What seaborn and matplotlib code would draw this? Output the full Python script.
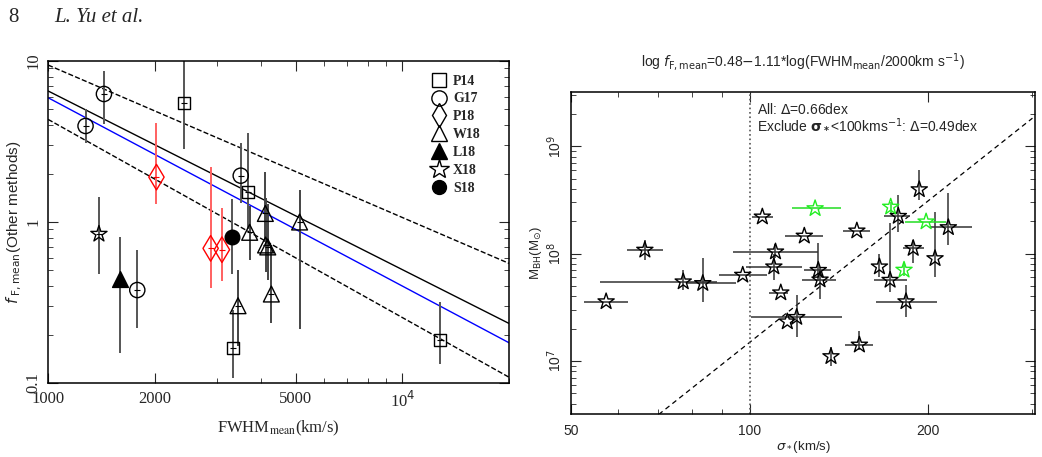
import numpy as np
import pandas as pd
import matplotlib
matplotlib.use("Agg")
import matplotlib.pyplot as plt
from matplotlib.lines import Line2D
from matplotlib.ticker import NullFormatter
import seaborn as sns

# ---- left panel: f_F,mean vs FWHM_mean ----
p14_x = [2416, 3665, 3326, 12760]
p14_y = [5.46, 1.54, 0.166, 0.185]
p14_lo = [2.83, 0.90, 0.108, 0.132]
p14_hi = [15.0, 3.56, 0.284, 0.32]

g17_x = [1276, 1438, 3498, 1786]
g17_y = [3.95, 6.24, 1.94, 0.378]
g17_lo = [3.08, 4.05, 1.31, 0.219]
g17_hi = [5.0, 8.67, 3.09, 0.67]

p18_x = [2023, 2877, 3096]
p18_y = [1.90, 0.686, 0.673]
p18_lo = [1.29, 0.391, 0.432]
p18_hi = [4.1, 2.2, 1.23]

w18_x = [3437, 3707, 4105, 4111, 4170, 4268, 5128]
w18_y = [0.302, 0.863, 1.13, 0.72, 0.70, 0.357, 1.0]
w18_lo = [0.17, 0.58, 0.75, 0.49, 0.436, 0.236, 0.216]
w18_hi = [0.503, 1.25, 2.04, 1.4, 1.3, 0.72, 1.58]

l18_x, l18_y, l18_lo, l18_hi = [1592], [0.443], [0.153], [0.807]
x18_x, x18_y, x18_lo, x18_hi = [1392], [0.842], [0.475], [1.44]
s18_x, s18_y, s18_lo, s18_hi = [3312], [0.807], [0.473], [1.39]

# fit lines: log f = a + b*log(FWHM/2000)
fit_a = [0.48, 0.42, 0.69, 0.267]
fit_b = [-1.11, -1.17, -0.947, -1.231]
fit_color = ['black', 'blue', 'black', 'black']
fit_style = ['-', '-', '--', '--']
fwhm_range = [1000, 20000]

legend_labels = ['P14', 'G17', 'P18', 'W18', 'L18', 'X18', 'S18']

# ---- right panel: M_BH vs sigma_* ----
sig = [57.3, 66.6, 77.3, 83.4, 97.4, 105.1, 110.6, 109.9, 112.9, 115.8, 120.1, 123.7,
       130.6, 131.5, 137.2, 151.7, 153.2, 165.6, 172.6, 178.2, 183.6, 188.8, 193.3, 205.5, 216.4]
sig_lo = [52.6, 62.2, 55.9, 78.0, 88.9, 101.0, 93.7, 98.8, 108.0, 115.8, 100.7, 114.9,
          123.7, 122.4, 137.2, 143.9, 145.0, 165.6, 162.0, 168.3, 163.4, 181.2, 193.3, 205.5, 201.5]
sig_hi = [62.5, 71.5, 88.0, 95.0, 106.9, 109.6, 130.6, 122.4, 116.0, 115.8, 143.0, 133.0,
          137.0, 140.0, 137.2, 159.6, 161.8, 165.6, 184.0, 186.6, 207.0, 196.7, 193.3, 205.5, 237.0]
mbh = [3.57e7, 1.08e8, 5.47e7, 5.28e7, 6.31e7, 2.2e8, 1.04e8, 7.54e7, 4.32e7, 2.32e7, 2.55e7, 1.46e8,
       7.0e7, 5.7e7, 1.10e7, 1.63e8, 1.41e7, 7.54e7, 5.66e7, 2.23e8, 3.57e7, 1.12e8, 3.95e8, 9.0e7, 1.75e8]
mbh_lo = [3.57e7, 8.7e7, 4.6e7, 3.56e7, 6.31e7, 2.2e8, 9.0e7, 5.66e7, 4.32e7, 2.32e7, 1.68e7, 1.46e8,
          5.5e7, 3.8e7, 8.9e6, 1.63e8, 1.25e7, 6.1e7, 4.4e7, 1.6e8, 2.55e7, 8.2e7, 3.15e8, 6.1e7, 1.2e8]
mbh_hi = [3.57e7, 1.34e8, 7.0e7, 9.0e7, 6.31e7, 2.2e8, 1.24e8, 1.0e8, 4.32e7, 2.32e7, 4.1e7, 1.46e8,
          1.25e8, 7.5e7, 1.36e7, 1.63e8, 1.88e7, 1.0e8, 1.91e8, 3.5e8, 5.1e7, 1.34e8, 5.98e8, 2.45e8, 3.63e8]

gsig = [129.0, 173.0, 182.2, 198.5]
gsig_lo = [117.8, 173.0, 182.2, 182.9]
gsig_hi = [142.5, 173.0, 182.2, 214.7]
gmbh = [2.63e8, 2.72e8, 7.03e7, 1.98e8]
gmbh_lo = [2.63e8, 2.4e8, 6.2e7, 1.98e8]
gmbh_hi = [2.63e8, 3.0e8, 8.0e7, 1.98e8]

# M-sigma relation (KH13): log M = 8.49 + 4.38 log(sigma/200)
msig_a, msig_b = 8.49, 4.38
sig_range = [50, 300]

sns.set_style('ticks')
plt.rcParams.update({
    'xtick.direction': 'in', 'ytick.direction': 'in',
    'xtick.top': True, 'ytick.right': True,
    'xtick.major.size': 7, 'ytick.major.size': 7,
    'xtick.minor.size': 3.5, 'ytick.minor.size': 3.5,
    'axes.linewidth': 1.1, 'axes.edgecolor': 'black',
})

fig = plt.figure(figsize=(10.42, 4.57), dpi=100)
ax1 = fig.add_axes([0.0461, 0.1619, 0.4424, 0.7046])
ax2 = fig.add_axes([0.548, 0.0941, 0.4453, 0.7046])

serif = 'Liberation Serif'
sans = 'Liberation Sans'

# ----- left panel -----
ax1.set_xscale('log')
ax1.set_yscale('log')

groups = [
    (p14_x, p14_y, p14_lo, p14_hi, 's', 'none', 'black', '#555555', 75),
    (g17_x, g17_y, g17_lo, g17_hi, 'o', 'none', 'black', '#555555', 120),
    (p18_x, p18_y, p18_lo, p18_hi, 'd', 'none', 'red', '#ff6060', 170),
    (w18_x, w18_y, w18_lo, w18_hi, '^', 'none', 'black', '#444444', 130),
    (l18_x, l18_y, l18_lo, l18_hi, '^', 'black', 'black', '#555555', 130),
    (x18_x, x18_y, x18_lo, x18_hi, '*', 'none', 'black', '#555555', 150),
    (s18_x, s18_y, s18_lo, s18_hi, 'o', 'black', 'black', '#555555', 110),
]

for gx, gy, glo, ghi, mk, fc, ec, errc, sz in groups:
    gx = np.array(gx); gy = np.array(gy)
    yerr = [gy - np.array(glo), np.array(ghi) - gy]
    ax1.errorbar(gx, gy, yerr=yerr, fmt='none', ecolor=errc, elinewidth=1.4, zorder=2)
    sns.scatterplot(x=gx, y=gy, marker=mk, s=sz, facecolors=fc, edgecolor=ec,
                    linewidth=1.0, ax=ax1, zorder=3)
    sns.scatterplot(x=gx, y=gy, marker='_', s=25, color=ec, linewidth=0.8, ax=ax1, zorder=4)

xx = np.array(fwhm_range, dtype=float)
for a, b, c, ls in zip(fit_a, fit_b, fit_color, fit_style):
    yy = 10 ** (a + b * np.log10(xx / 2000.0))
    sns.lineplot(x=xx, y=yy, color=c, linestyle=ls, linewidth=1.0, ax=ax1, zorder=1)

ax1.set_xlim(1000, 20000)
ax1.set_ylim(0.1, 10)
ax1.set_xticks([1000, 2000, 5000, 10000])
ax1.set_xticklabels(['1000', '2000', '5000', r'10$^4$'], fontfamily=serif, fontsize=12)
ax1.set_yticks([0.1, 1, 10])
ax1.set_yticklabels(['0.1', '1', '10'], fontfamily=serif, fontsize=12, rotation=90, va='center')
ax1.xaxis.set_minor_formatter(NullFormatter())
ax1.yaxis.set_minor_formatter(NullFormatter())
ax1.tick_params(axis='x', pad=6)
ax1.tick_params(axis='y', pad=5)
ax1.set_xlabel(r'FWHM$_{\rm mean}$(km/s)', fontfamily=serif, fontsize=12, labelpad=5,
               math_fontfamily='stix')
ax1.set_ylabel(r'$\mathit{f}_{\rm \ F,mean}$(Other methods)', fontfamily=sans, fontsize=11,
               labelpad=1, math_fontfamily='dejavusans')

handles = [
    Line2D([], [], ls='none', marker='s', ms=10, mfc='none', mec='black'),
    Line2D([], [], ls='none', marker='o', ms=11, mfc='none', mec='black'),
    Line2D([], [], ls='none', marker='d', ms=12, mfc='none', mec='black'),
    Line2D([], [], ls='none', marker='^', ms=12, mfc='none', mec='black'),
    Line2D([], [], ls='none', marker='^', ms=11, mfc='black', mec='black'),
    Line2D([], [], ls='none', marker='*', ms=15, mfc='none', mec='black'),
    Line2D([], [], ls='none', marker='o', ms=10, mfc='black', mec='black'),
]
ax1.legend(handles, legend_labels, loc='upper right', bbox_to_anchor=(0.96, 0.988),
           frameon=False, prop={'family': serif, 'weight': 'bold', 'size': 10},
           handlelength=1.0, handletextpad=0.5, labelspacing=0.35, borderpad=0.2)

# ----- right panel -----
ax2.set_xscale('log')
ax2.set_yscale('log')

sig_a = np.array(sig); mbh_a = np.array(mbh)
ax2.errorbar(sig_a, mbh_a,
             xerr=[sig_a - np.array(sig_lo), np.array(sig_hi) - sig_a],
             yerr=[mbh_a - np.array(mbh_lo), np.array(mbh_hi) - mbh_a],
             fmt='none', ecolor='#333333', elinewidth=1.1, zorder=2)
gs = np.array(gsig); gm = np.array(gmbh)
ax2.errorbar(gs, gm,
             xerr=[gs - np.array(gsig_lo), np.array(gsig_hi) - gs],
             yerr=[gm - np.array(gmbh_lo), np.array(gmbh_hi) - gm],
             fmt='none', ecolor='#22dd22', elinewidth=1.1, zorder=2)
sns.scatterplot(x=sig_a, y=mbh_a, marker='*', s=150, facecolors='none', edgecolor='black',
                linewidth=1.0, ax=ax2, zorder=3)
sns.scatterplot(x=gs, y=gm, marker='*', s=150, facecolors='none', edgecolor='#22ee22',
                linewidth=1.0, ax=ax2, zorder=3)

ss = np.array(sig_range, dtype=float)
sns.lineplot(x=ss, y=10 ** (msig_a + msig_b * np.log10(ss / 200.0)), color='black',
             linestyle=(0, (4, 3)), linewidth=0.9, ax=ax2, zorder=1)
ax2.axvline(100, color='#555555', linestyle=':', linewidth=1.2, zorder=1)

ax2.set_xlim(50, 303)
ax2.set_ylim(3.2e6, 3.2e9)
ax2.set_xticks([50, 100, 200])
ax2.set_xticklabels(['50', '100', '200'], fontfamily=sans, fontsize=10)
ax2.set_yticks([1e7, 1e8, 1e9])
ax2.set_yticklabels([r'10$^7$', r'10$^8$', r'10$^9$'], fontfamily=sans, fontsize=10,
                    rotation=90, va='center')
ax2.xaxis.set_minor_formatter(NullFormatter())
ax2.yaxis.set_minor_formatter(NullFormatter())
ax2.tick_params(axis='x', pad=7)
ax2.tick_params(axis='y', pad=5)
ax2.set_xlabel(r'$\sigma_*$(km/s)', fontfamily=sans, fontsize=9.5, labelpad=1)
ax2.set_ylabel(r'M$_{\rm BH}$(M$_{\odot}$)', fontfamily=sans, fontsize=9.5, labelpad=1)
ax2.set_title(r'log $\mathit{f}_{\rm F,mean}$=0.48$-$1.11*log(FWHM$_{\rm mean}$/2000km s$^{-1}$)',
              fontfamily=sans, fontsize=10, pad=18)

ax2.text(0.40, 0.968, r'All: $\Delta$=0.66dex', transform=ax2.transAxes,
         fontfamily=sans, fontsize=10, va='top')
ax2.text(0.40, 0.922, r'Exclude $\mathbf{\sigma_*}$<100kms$^{-1}$: $\Delta$=0.49dex',
         transform=ax2.transAxes, fontfamily=sans, fontsize=10, va='top')

# page header
fig.text(0.008, 0.962, '8', fontfamily=serif, fontsize=15, va='center')
fig.text(0.052, 0.962, 'L. Yu et al.', fontfamily=serif, fontsize=15, style='italic', va='center')

fig.savefig('out.png', dpi=100)
